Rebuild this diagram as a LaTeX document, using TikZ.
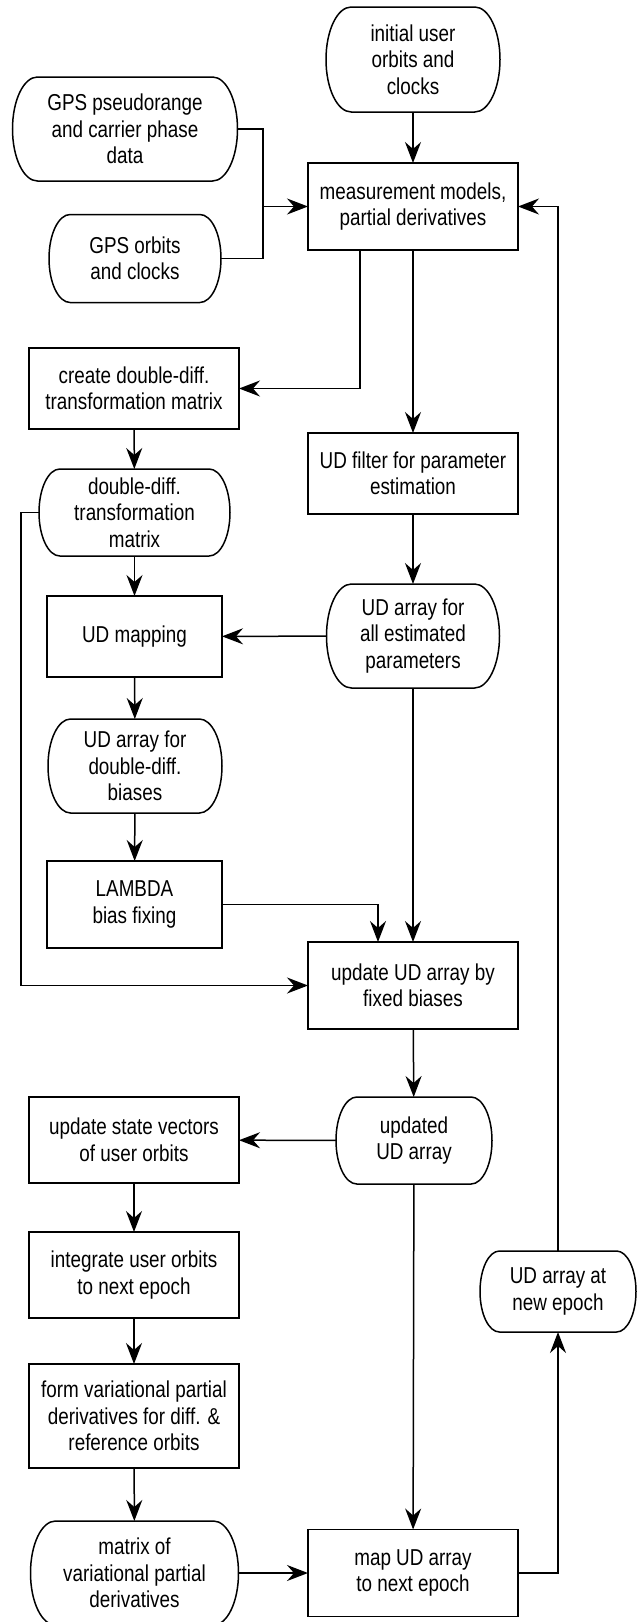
\documentclass[tikz,border=0pt]{standalone}
\usepackage{fontspec}
\setmainfont[FakeStretch=0.82]{Liberation Sans}
\usetikzlibrary{arrows.meta,calc}

\begin{document}
\begin{tikzpicture}[x=1pt,y=1pt,
  every node/.style={font=\fontsize{23}{26.5}\selectfont, align=center,
    inner sep=0pt, outer sep=0pt},
  proc/.style={draw, rectangle, line width=1.5pt},
  term/.style={rectangle, draw=none},
  flow/.style={line width=1.5pt, -{Stealth[length=21pt,width=16pt,inset=7pt]}},
  wire/.style={line width=1.5pt},
]
\useasboundingbox (0,0) rectangle (637,-1622);

% data items (drawn with elliptic ends below)
\node[term, minimum width=174, minimum height=105] (init)    at (413,-59.5) {initial user\\orbits and\\clocks};
\node[term, minimum width=225, minimum height=104] (pseudo)  at (125,-129)  {GPS pseudorange\\and carrier phase\\data};
\node[term, minimum width=172, minimum height=88]  (gorb)    at (135,-258.5) {GPS orbits\\and clocks};
\node[term, minimum width=191, minimum height=87]  (ddmat)   at (134.5,-512.5) {double-diff.\\transformation\\matrix};
\node[term, minimum width=173, minimum height=104] (allest)  at (413,-636) {UD array for\\all estimated\\parameters};
\node[term, minimum width=174, minimum height=94]  (ddbias)  at (135,-766) {UD array for\\double-diff.\\biases};
\node[term, minimum width=156, minimum height=87]  (updated) at (414,-1140.5) {updated\\UD array};
\node[term, minimum width=156, minimum height=81]  (newep)   at (558,-1291.5) {UD array at\\new epoch};
\node[term, minimum width=208, minimum height=104] (matvar)  at (134.5,-1573) {matrix of\\variational partial\\derivatives};

% processing steps
\node[proc, minimum width=210, minimum height=87] (meas)   at (413,-206.5) {measurement models,\\partial derivatives};
\node[proc, minimum width=210, minimum height=81] (create) at (134,-388.5) {create double-diff.\\transformation matrix};
\node[proc, minimum width=210, minimum height=81] (filter) at (413,-473.5) {UD filter for parameter\\estimation};
\node[proc, minimum width=175, minimum height=81] (udmap)  at (134.5,-636.5) {UD mapping};
\node[proc, minimum width=175, minimum height=87] (lambda) at (134.5,-904.5) {LAMBDA\\bias fixing};
\node[proc, minimum width=210, minimum height=87] (update) at (413,-985.5) {update UD array by\\fixed biases};
\node[proc, minimum width=210, minimum height=86] (state)  at (134,-1140) {update state vectors\\of user orbits};
\node[proc, minimum width=210, minimum height=86] (integ)  at (134,-1275) {integrate user orbits\\to next epoch};
\node[proc, minimum width=210, minimum height=104] (form)  at (134,-1416) {form variational partial\\derivatives for diff. \&\\reference orbits};
\node[proc, minimum width=210, minimum height=87] (map)    at (413,-1573) {map UD array\\to next epoch};

% outlines of the data items: straight top and bottom, half-ellipse sides
\foreach \nd in {init,pseudo,gorb,ddmat,allest,ddbias,updated,newep,matvar}{
  \draw[wire] let \p1=(\nd.north east), \p2=(\nd.south west),
      \n1={(\y1-\y2)/2}, \n2={0.24*(\y1-\y2)} in
    (\x2+\n2,\y1) -- (\x1-\n2,\y1)
    arc[start angle=90, end angle=-90, x radius=\n2, y radius=\n1]
    -- (\x2+\n2,\y2)
    arc[start angle=270, end angle=90, x radius=\n2, y radius=\n1] -- cycle;
}

% connectors
\coordinate (j1) at (263,-206.5);
\draw[flow] (init) -- (meas);
\draw[wire] (pseudo.east) -| (j1) |- (gorb.east);
\draw[flow] (j1) -- (meas.west);
\draw[flow] ([xshift=-53]meas.south) |- (create.east);
\draw[flow] (meas) -- (filter);
\draw[flow] (create) -- (ddmat);
\draw[flow] (ddmat) -- (udmap);
\draw[flow] (filter) -- (allest);
\draw[flow] (allest) -- (udmap);
\draw[flow] (udmap) -- (ddbias);
\draw[flow] (ddbias) -- (lambda);
\draw[flow] (lambda.east) -| ([xshift=-35]update.north);
\draw[flow] (allest) -- (update);
\draw[flow] (ddmat.west) -- ++(-18,0) |- (update.west);
\draw[flow] (update) -- (updated);
\draw[flow] (updated) -- (state);
\draw[flow] (state) -- (integ);
\draw[flow] (integ) -- (form);
\draw[flow] (form) -- (matvar);
\draw[flow] (updated) -- (map);
\draw[flow] (matvar) -- (map);
\draw[flow] (map.east) -| (newep.south);
\draw[flow] (newep.north) |- (meas.east);
\end{tikzpicture}
\end{document}
